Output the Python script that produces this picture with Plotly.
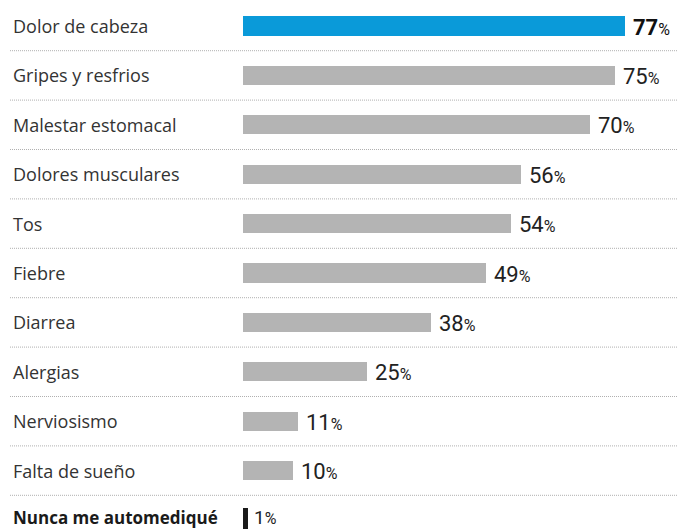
import plotly.graph_objects as go

categories = ["Dolor de cabeza", "Gripes y resfrios", "Malestar estomacal",
              "Dolores musculares", "Tos", "Fiebre", "Diarrea", "Alergias",
              "Nerviosismo", "Falta de sueño", "Nunca me automediqué"]
values = [77, 75, 70, 56, 54, 49, 38, 25, 11, 10, 1]
colors = ["#0a9ad9"] + ["#b4b4b4"] * 9 + ["#1a1a1a"]

W, H = 677, 529
x0px = 243
pxper = 4.96
row0 = 26
rowh = 49.4

n = len(categories)
ypos = list(range(n))

fig = go.Figure(go.Bar(
    x=values, y=ypos, orientation="h",
    marker=dict(color=colors, line=dict(width=0)),
    width=[0.385] * (n - 1) + [0.5],
    hoverinfo="skip",
))

annotations = []
shapes = []
for i, (c, v) in enumerate(zip(categories, values)):
    last = i == n - 1
    annotations.append(dict(
        x=11 / W, xref="paper", y=i, yref="y", xanchor="left", yanchor="middle",
        text=(f"<b>{c}</b>" if last else c), showarrow=False,
        yshift=3 if last else 0,
        font=dict(family="Open Sans", size=17 if last else 18,
                  color="#1a1a1a" if last else "#333333"),
    ))
    if i == 0:
        num = f"<b>{v}</b>"
        col = "#111111"
    else:
        num = f"{v}"
        col = "#222222"
    annotations.append(dict(
        x=v, xref="x", y=i, yref="y", xanchor="left", yanchor="middle",
        xshift=6 if not last else 4, yshift=-1 if not last else 3,
        text=f"{num}<span style='font-size:16px'>%</span>", showarrow=False,
        font=dict(family="Roboto", size=22 if not last else 19, color=col),
    ))
    if i < n - 1:
        shapes.append(dict(
            type="line", xref="paper", yref="y", x0=10 / W, x1=1,
            y0=i + 0.5, y1=i + 0.5,
            line=dict(color="#b0b0b0", width=1, dash="1px,1px"),
        ))

ytop = -row0 / rowh
ybot = (H - row0) / rowh

fig.update_layout(
    width=W, height=H,
    margin=dict(l=0, r=0, t=0, b=0),
    paper_bgcolor="white", plot_bgcolor="white",
    showlegend=False,
    xaxis=dict(domain=[x0px / W, 1], range=[0, (W - x0px) / pxper],
               visible=False, fixedrange=True),
    yaxis=dict(range=[ybot, ytop], visible=False, fixedrange=True),
    annotations=annotations,
    shapes=shapes,
    bargap=0,
)

fig.write_html("out.html")
